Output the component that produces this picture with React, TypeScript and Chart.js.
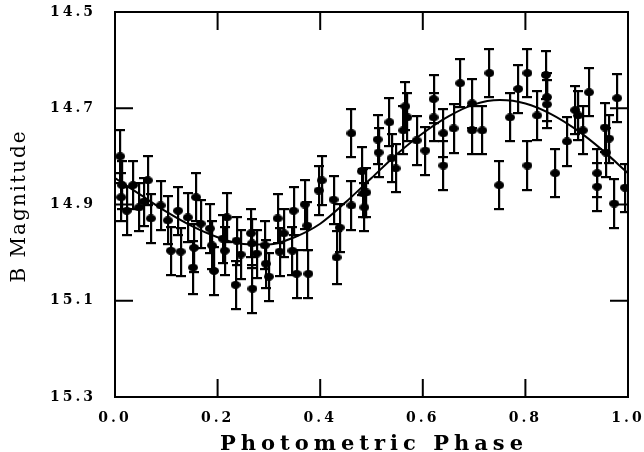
import React, { useEffect, useRef } from "react";
import { Chart, registerables } from "chart.js";

Chart.register(...registerables);

// Observed points: photometric phase, B magnitude, 1-sigma error
const phase = [
  0.010, 0.014, 0.012, 0.023, 0.035, 0.047, 0.056, 0.064, 0.070, 0.089,
  0.103, 0.109, 0.123, 0.128, 0.142, 0.154, 0.152, 0.158, 0.167, 0.185,
  0.189, 0.193, 0.210, 0.218, 0.214, 0.237, 0.235, 0.245, 0.265, 0.267,
  0.268, 0.276, 0.292, 0.294, 0.300, 0.317, 0.321, 0.329, 0.348, 0.346,
  0.354, 0.370, 0.375, 0.377, 0.397, 0.403, 0.426, 0.432, 0.438, 0.461,
  0.461, 0.481, 0.484, 0.490, 0.486, 0.512, 0.514, 0.535, 0.539, 0.547,
  0.562, 0.566, 0.570, 0.588, 0.605, 0.621, 0.621, 0.640, 0.640, 0.660,
  0.673, 0.696, 0.696, 0.716, 0.730, 0.749, 0.770, 0.786, 0.804, 0.804,
  0.823, 0.840, 0.842, 0.842, 0.858, 0.881, 0.897, 0.903, 0.912, 0.924,
  0.940, 0.940, 0.955, 0.957, 0.963, 0.973, 0.979, 0.994,
];
const mag = [
  14.800, 14.860, 14.885, 14.913, 14.860, 14.906, 14.894, 14.850, 14.929, 14.902,
  14.933, 14.996, 14.913, 14.998, 14.927, 14.990, 15.031, 14.885, 14.940, 14.950,
  14.985, 15.038, 14.971, 14.927, 14.996, 14.975, 15.067, 15.004, 14.960, 14.981,
  15.075, 15.002, 14.985, 15.023, 15.050, 14.929, 14.998, 14.960, 14.913, 14.996,
  15.044, 14.900, 14.944, 15.044, 14.871, 14.850, 14.890, 15.010, 14.948, 14.752,
  14.902, 14.831, 14.877, 14.875, 14.906, 14.765, 14.792, 14.729, 14.804, 14.825,
  14.746, 14.696, 14.719, 14.767, 14.788, 14.681, 14.719, 14.752, 14.819, 14.742,
  14.648, 14.690, 14.746, 14.746, 14.627, 14.860, 14.719, 14.660, 14.627, 14.819,
  14.715, 14.631, 14.677, 14.692, 14.835, 14.769, 14.704, 14.715, 14.746, 14.667,
  14.835, 14.863, 14.740, 14.792, 14.763, 14.898, 14.679, 14.865,
];
const err = [
  0.055, 0.05, 0.05, 0.05, 0.05, 0.05, 0.05, 0.05, 0.05, 0.05,
  0.05, 0.05, 0.05, 0.05, 0.05, 0.05, 0.055, 0.05, 0.05, 0.05,
  0.05, 0.05, 0.05, 0.05, 0.05, 0.05, 0.05, 0.05, 0.05, 0.05,
  0.05, 0.05, 0.05, 0.05, 0.05, 0.05, 0.05, 0.05, 0.05, 0.05,
  0.05, 0.05, 0.05, 0.05, 0.05, 0.05, 0.05, 0.055, 0.05, 0.05,
  0.05, 0.05, 0.05, 0.05, 0.05, 0.05, 0.05, 0.05, 0.05, 0.05,
  0.05, 0.05, 0.05, 0.05, 0.05, 0.05, 0.05, 0.05, 0.05, 0.05,
  0.05, 0.05, 0.05, 0.05, 0.05, 0.05, 0.05, 0.05, 0.05, 0.05,
  0.05, 0.05, 0.05, 0.05, 0.05, 0.05, 0.05, 0.05, 0.05, 0.05,
  0.05, 0.05, 0.05, 0.05, 0.05, 0.05, 0.05, 0.05,
];

// Fitted light curve
const curvePhase = [
  0.0, 0.05, 0.1, 0.15, 0.2, 0.25, 0.3, 0.35, 0.4, 0.45, 0.5,
  0.55, 0.6, 0.65, 0.7, 0.75, 0.8, 0.85, 0.9, 0.95, 1.0,
];
const curveMag = [
  14.845, 14.88, 14.915, 14.945, 14.968, 14.982, 14.983, 14.968, 14.94, 14.895, 14.845,
  14.795, 14.752, 14.717, 14.692, 14.683, 14.69, 14.712, 14.745, 14.787, 14.835,
];

const xTicks = [0, 0.2, 0.4, 0.6, 0.8, 1.0];
const yTicks = [14.5, 14.7, 14.9, 15.1, 15.3];
const xTitle = "Photometric Phase";
const yTitle = "B Magnitude";

function makeDot(): HTMLCanvasElement {
  const c = document.createElement("canvas");
  c.width = 10;
  c.height = 8;
  const g = c.getContext("2d")!;
  g.fillStyle = "#000";
  g.beginPath();
  g.ellipse(5, 4, 5, 4, 0, 0, Math.PI * 2);
  g.fill();
  return c;
}

const zeroPad = (s: any) => {
  s.paddingTop = 0;
  s.paddingBottom = 0;
  s.paddingLeft = 0;
  s.paddingRight = 0;
};

const framePlugin = {
  id: "framePlugin",
  beforeDraw(chart: any) {
    chart.ctx.letterSpacing = "3px";
  },
  beforeDatasetsDraw(chart: any) {
    const ctx = chart.ctx;
    const xs = chart.scales.x;
    const ys = chart.scales.y;
    const a = chart.chartArea;
    ctx.save();
    ctx.beginPath();
    ctx.rect(a.left, a.top, a.right - a.left, a.bottom - a.top);
    ctx.clip();
    ctx.fillStyle = "#000";
    phase.forEach((p, i) => {
      const x = Math.round(xs.getPixelForValue(p));
      const y1 = Math.round(ys.getPixelForValue(mag[i] - err[i]));
      const y2 = Math.round(ys.getPixelForValue(mag[i] + err[i]));
      ctx.fillRect(x - 1, y1, 2.2, y2 - y1);
      ctx.fillRect(x - 5, y1 - 1, 10, 2.2);
      ctx.fillRect(x - 5, y2 - 1, 10, 2.2);
    });
    ctx.restore();
  },
  afterDraw(chart: any) {
    const ctx = chart.ctx;
    const xs = chart.scales.x;
    const ys = chart.scales.y;
    const a = chart.chartArea;
    ctx.save();
    ctx.strokeStyle = "#000";
    ctx.lineWidth = 2;
    ctx.strokeRect(a.left, a.top, a.right - a.left, a.bottom - a.top);
    const tl = 18;
    ctx.beginPath();
    xTicks.forEach((v) => {
      const x = xs.getPixelForValue(v);
      ctx.moveTo(x, a.bottom);
      ctx.lineTo(x, a.bottom - tl);
      ctx.moveTo(x, a.top);
      ctx.lineTo(x, a.top + tl);
    });
    yTicks.forEach((v) => {
      const y = ys.getPixelForValue(v);
      ctx.moveTo(a.left, y);
      ctx.lineTo(a.left + tl, y);
      ctx.moveTo(a.right, y);
      ctx.lineTo(a.right - tl, y);
    });
    ctx.stroke();
    ctx.restore();

    ctx.save();
    ctx.fillStyle = "#000";
    ctx.letterSpacing = "5px";
    ctx.font = "bold 21px 'DejaVu Serif'";
    ctx.textAlign = "center";
    ctx.textBaseline = "alphabetic";
    ctx.fillText(xTitle, (a.left + a.right) / 2 + 2.5, 450);
    ctx.letterSpacing = "2px";
    ctx.font = "20px 'DejaVu Serif'";
    ctx.translate(25, 207);
    ctx.rotate(-Math.PI / 2);
    ctx.fillText(yTitle, 1, 0);
    ctx.restore();
  },
};

export default function App() {
  const ref = useRef<HTMLCanvasElement | null>(null);

  useEffect(() => {
    document.body.style.margin = "0";
    document.body.style.overflow = "hidden";
    const canvas = ref.current!;
    const tickFont = { family: "'DejaVu Serif'", weight: "bold" as const, size: 14 };
    const gridOpts = { display: true, drawOnChartArea: false, drawTicks: false, color: "#000" };
    const borderOpts = { display: true, color: "#000", width: 2 };
    const chart = new Chart(canvas, {
      type: "scatter",
      data: {
        datasets: [
          {
            type: "line",
            data: curvePhase.map((p, i) => ({ x: p, y: curveMag[i] })),
            borderColor: "#000",
            borderWidth: 2,
            pointRadius: 0,
            cubicInterpolationMode: "monotone",
            fill: false,
          } as any,
          {
            type: "scatter",
            data: phase.map((p, i) => ({ x: p, y: mag[i] })),
            pointStyle: makeDot(),
            pointRadius: 4.5,
            backgroundColor: "#000",
            borderColor: "#000",
            borderWidth: 0,
            showLine: false,
          } as any,
        ],
      },
      options: {
        responsive: false,
        animation: false,
        devicePixelRatio: 1,
        layout: { padding: { top: 12, right: 16, bottom: 0, left: 0 } },
        plugins: {
          legend: { display: false },
          tooltip: { enabled: false },
        },
        scales: {
          x: {
            type: "linear",
            min: 0,
            max: 1,
            grid: gridOpts,
            border: borderOpts,
            ticks: {
              stepSize: 0.2,
              padding: 13,
              color: "#000",
              font: tickFont,
              maxRotation: 0,
              autoSkip: false,
              callback: (v: any) => Number(v).toFixed(1),
            },
            afterFit: (s: any) => {
              s.height = 55;
              zeroPad(s);
            },
          },
          y: {
            type: "linear",
            reverse: true,
            min: 14.5,
            max: 15.3,
            grid: gridOpts,
            border: borderOpts,
            ticks: {
              stepSize: 0.2,
              padding: 19,
              color: "#000",
              font: tickFont,
              autoSkip: false,
              callback: (v: any) => Number(v).toFixed(1),
            },
            afterFit: (s: any) => {
              s.width = 115;
              zeroPad(s);
            },
          },
        },
      },
      plugins: [framePlugin],
    });
    return () => chart.destroy();
  }, []);

  return (
    <div style={{ width: 644, height: 452 }}>
      <canvas ref={ref} width={644} height={452} style={{ display: "block" }} />
    </div>
  );
}
